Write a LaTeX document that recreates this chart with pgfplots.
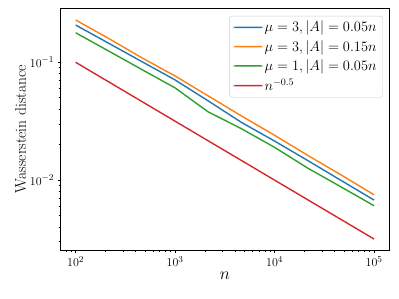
\documentclass[border=0pt]{standalone}
\usepackage{pgfplots}
\pgfplotsset{compat=1.18}
\definecolor{tabblue}{HTML}{1F77B4}
\definecolor{taborange}{HTML}{FF7F0E}
\definecolor{tabgreen}{HTML}{2CA02C}
\definecolor{tabred}{HTML}{D62728}
\pgfplotsset{limg/.style={legend image code/.code={\path[fill=#1, draw=none] (0pt,-0.8pt) rectangle (29pt,0.8pt);}}}
\begin{document}
\begin{tikzpicture}
\begin{axis}[
  xmode=log, ymode=log,
  scale only axis, width=328.3pt, height=241.7pt,
  xmin=70.79, xmax=141254,
  ymin=0.002553, ymax=0.2871,
  tick align=outside, xtick pos=bottom, ytick pos=left,
  major tick length=3.2pt, minor tick length=2pt,
  every tick/.style={black, line width=0.7pt},
  axis line style={line width=0.7pt},
  tick label style={font=\fontsize{12.5}{14}\selectfont},
  xlabel={$n$}, xlabel style={font=\fontsize{17}{19}\selectfont, yshift=2pt},
  ylabel={Wasserstein distance}, ylabel style={font=\fontsize{15.5}{17}\selectfont, yshift=-3pt},
  legend cell align=left,
  legend style={at={(1,1)}, anchor=north east, xshift=-6.3pt, yshift=-7.7pt,
    draw={rgb,255:red,204;green,204;blue,204}, rounded corners=2pt, fill=white,
    font=\fontsize{14}{16}\selectfont, row sep=3pt, inner xsep=4pt, inner ysep=3pt},
  every axis plot/.append style={line width=1.4pt},
]
\addplot[tabblue, limg=tabblue] coordinates {(100,0.2071)(215.4,0.1449)(464.2,0.1012)(1000,0.0708)(2154,0.0470)(4642,0.03090)(10000,0.02145)(21544,0.01466)(46416,0.00996)(100000,0.00677)};
\addlegendentry{$\mu=3,|A|=0.05n$}
\addplot[taborange, limg=taborange] coordinates {(100,0.2283)(215.4,0.1591)(464.2,0.1090)(1000,0.0765)(2154,0.0518)(4642,0.03506)(10000,0.02401)(21544,0.01622)(46416,0.01109)(100000,0.00751)};
\addlegendentry{$\mu=3,|A|=0.15n$}
\addplot[tabgreen, limg=tabgreen] coordinates {(100,0.1781)(215.4,0.1244)(464.2,0.0867)(1000,0.0606)(2154,0.0379)(4642,0.02731)(10000,0.01897)(21544,0.01264)(46416,0.00877)(100000,0.00606)};
\addlegendentry{$\mu=1,|A|=0.05n$}
\addplot[tabred, limg=tabred] coordinates {(100,0.1)(215.4,0.06813)(464.2,0.04642)(1000,0.03162)(2154,0.02154)(4642,0.01468)(10000,0.01)(21544,0.006813)(46416,0.004642)(100000,0.003162)};
\addlegendentry{$n^{-0.5}$}
\coordinate (SW) at (rel axis cs:0,0);
\coordinate (NE) at (rel axis cs:1,1);
\end{axis}
\pgfresetboundingbox
\useasboundingbox ([shift={(-60.7pt,-49pt)}]SW) rectangle ([shift={(10pt,8.3pt)}]NE);
\end{tikzpicture}
\end{document}
